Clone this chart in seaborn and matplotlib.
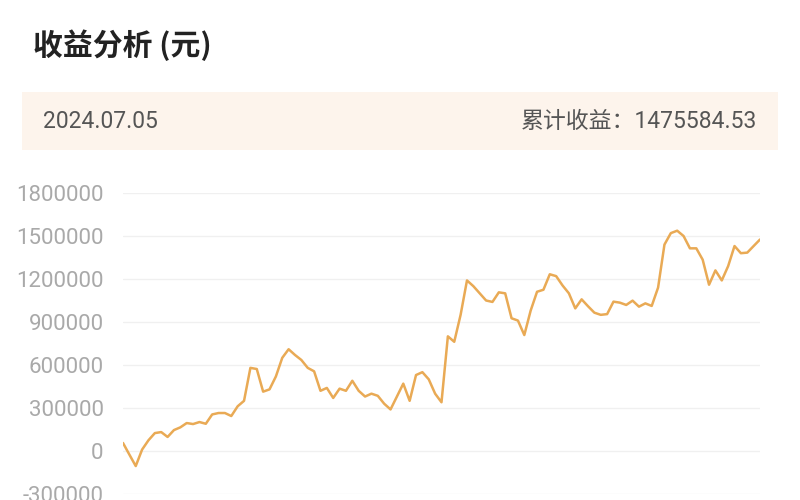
import numpy as np
import pandas as pd
import seaborn as sns
import matplotlib.pyplot as plt
from matplotlib.patches import Rectangle

# -----------------------------
# Data
# -----------------------------
TITLE = "收益分析 (元)"
DATE_LABEL = "2024.07.05"
TOTAL_LABEL = "累计收益：1475584.53"

profit = [
    56000, -25000, -105000, 10000, 75000, 125000, 132000, 98000, 146000, 165000,
    195000, 188000, 202000, 190000, 255000, 265000, 265000, 244000, 312000, 350000,
    580000, 572000, 414000, 430000, 520000, 650000, 710000, 670000, 635000, 580000,
    556000, 420000, 440000, 370000, 435000, 420000, 490000, 420000, 380000, 400000,
    385000, 330000, 290000, 380000, 470000, 350000, 530000, 550000, 500000, 400000,
    340000, 800000, 762000, 950000, 1190000, 1150000, 1100000, 1050000, 1040000, 1107000,
    1100000, 926000, 910000, 809000, 980000, 1111000, 1125000, 1233000, 1220000, 1155000,
    1100000, 995000, 1058000, 1010000, 965000, 950000, 955000, 1042000, 1035000, 1019000,
    1049000, 1007000, 1030000, 1012000, 1140000, 1440000, 1520000, 1537000, 1500000, 1414000,
    1414000, 1335000, 1160000, 1260000, 1190000, 1290000, 1430000, 1380000, 1384000, 1430000,
    1475584.53,
]
y_ticks = [-300000, 0, 300000, 600000, 900000, 1200000, 1500000, 1800000]

LINE_COLOR = "#e9aa55"

df = pd.DataFrame({"step": np.arange(len(profit)), "profit": profit})

sns.set_style("white")
plt.rcParams["font.family"] = ["Roboto", "Noto Sans CJK SC", "DejaVu Sans"]

fig = plt.figure(figsize=(8, 5), dpi=100)

# -----------------------------
# Header: title + info banner
# -----------------------------
fig.text(33 / 800, 1 - 45 / 500, TITLE, fontsize=21.5, fontweight="bold",
         color="#222222", va="center", ha="left",
         family=["Noto Sans CJK SC", "DejaVu Sans"])

fig.patches.append(Rectangle((22 / 800, 1 - 150 / 500), 756 / 800, 58 / 500,
                             transform=fig.transFigure, facecolor="#fdf4ec",
                             edgecolor="none", zorder=0))
fig.text(43 / 800, 1 - 121 / 500, DATE_LABEL, fontsize=16.5, color="#555555",
         va="center", ha="left")
fig.text(757 / 800, 1 - 121 / 500, TOTAL_LABEL, fontsize=16.5, color="#555555",
         va="center", ha="right")

# -----------------------------
# Line chart
# -----------------------------
ax = fig.add_axes([123 / 800, 6 / 500, 637 / 800, 301 / 500])
sns.lineplot(data=df, x="step", y="profit", ax=ax, color=LINE_COLOR, linewidth=1.8)

ax.set_xlim(df["step"].min(), df["step"].max())
ax.set_ylim(y_ticks[0], y_ticks[-1])
ax.set_yticks(y_ticks)
ax.set_yticklabels([str(t) for t in y_ticks])
ax.set_xticks([])
ax.set_xlabel("")
ax.set_ylabel("")
ax.yaxis.grid(True, color="#f0f0f0", linewidth=1)
ax.set_axisbelow(True)
ax.tick_params(axis="y", length=0, pad=14, labelsize=16, labelcolor="#a9a9a9")
for spine in ax.spines.values():
    spine.set_visible(False)

fig.savefig("out.png", dpi=100)
plt.close(fig)
